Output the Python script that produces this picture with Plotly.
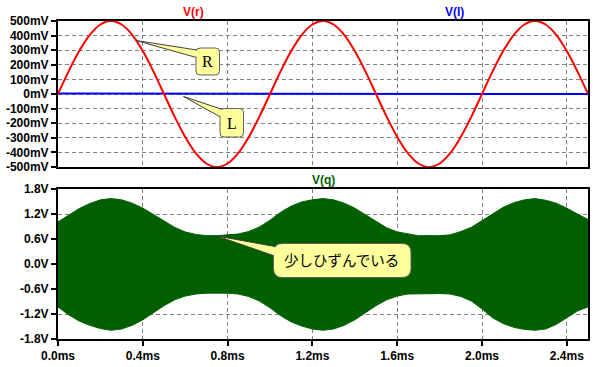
import plotly.graph_objects as go

# ---------------- data ----------------
t_ms = [round(0.05 * i, 2) for i in range(51)]  # 0.00 .. 2.50 ms sample times

v_r = [0.000, 0.155, 0.294, 0.405, 0.476, 0.500, 0.476, 0.405, 0.294, 0.155,
       0.000, -0.155, -0.294, -0.405, -0.476, -0.500, -0.476, -0.405, -0.294, -0.155,
       0.000, 0.155, 0.294, 0.405, 0.476, 0.500, 0.476, 0.405, 0.294, 0.155,
       0.000, -0.155, -0.294, -0.405, -0.476, -0.500, -0.476, -0.405, -0.294, -0.155,
       0.000, 0.155, 0.294, 0.405, 0.476, 0.500, 0.476, 0.405, 0.294, 0.155,
       0.000]

vl_t = [0.0, 1.245, 1.25, 2.5]
v_l = [0.004, 0.004, 0.0, 0.0]

# envelope of the dense V(q) carrier
vq_upper = [1.01, 1.18, 1.33, 1.45, 1.54, 1.57, 1.54, 1.46, 1.34, 1.19,
            1.04, 0.88, 0.77, 0.71, 0.68, 0.68, 0.70, 0.72, 0.78, 0.89,
            1.05, 1.24, 1.39, 1.49, 1.54, 1.57, 1.54, 1.46, 1.34, 1.19,
            1.03, 0.87, 0.77, 0.72, 0.68, 0.68, 0.68, 0.70, 0.78, 0.88,
            1.04, 1.21, 1.36, 1.47, 1.54, 1.57, 1.53, 1.46, 1.34, 1.20,
            1.07]
vq_lower = [-1.03, -1.22, -1.37, -1.47, -1.55, -1.59, -1.56, -1.47, -1.34, -1.17,
            -1.00, -0.86, -0.77, -0.72, -0.70, -0.70, -0.70, -0.72, -0.78, -0.89,
            -1.05, -1.24, -1.39, -1.49, -1.56, -1.59, -1.56, -1.47, -1.34, -1.17,
            -1.00, -0.86, -0.77, -0.72, -0.71, -0.71, -0.71, -0.72, -0.78, -0.89,
            -1.08, -1.29, -1.43, -1.52, -1.57, -1.59, -1.56, -1.45, -1.29, -1.13,
            -1.03]

x_ticks = [0.0, 0.4, 0.8, 1.2, 1.6, 2.0, 2.4]
x_ticktext = ["0.0ms", "0.4ms", "0.8ms", "1.2ms", "1.6ms", "2.0ms", "2.4ms"]
top_ticks = [0.5, 0.4, 0.3, 0.2, 0.1, 0.0, -0.1, -0.2, -0.3, -0.4, -0.5]
top_ticktext = ["500mV", "400mV", "300mV", "200mV", "100mV", "0mV",
                "-100mV", "-200mV", "-300mV", "-400mV", "-500mV"]
bot_ticks = [1.8, 1.2, 0.6, 0.0, -0.6, -1.2, -1.8]
bot_ticktext = ["1.8V", "1.2V", "0.6V", "0.0V", "-0.6V", "-1.2V", "-1.8V"]

# ---------------- layout geometry ----------------
W, H = 598, 367
ML, MR, MT, MB = 58, 10, 21, 28
PW, PH = W - ML - MR, H - MT - MB

def px(x):
    return (x - ML) / PW

def py(y):
    return (H - MB - y) / PH

RED = "#ff0000"
BLUE = "#0000ff"
GREEN = "rgb(0,96,0)"
YELLOW = "#ffff9c"
GRID = "#808080"

fig = go.Figure()

fig.add_trace(go.Scatter(x=vl_t, y=v_l, mode="lines", line=dict(color=BLUE, width=2),
                         xaxis="x", yaxis="y", hoverinfo="skip"))
fig.add_trace(go.Scatter(x=t_ms, y=v_r, mode="lines", line=dict(color=RED, width=2, shape="spline"),
                         xaxis="x", yaxis="y", hoverinfo="skip"))
fig.add_trace(go.Scatter(x=t_ms + t_ms[::-1], y=vq_upper + vq_lower[::-1], mode="lines",
                         fill="toself", fillcolor=GREEN, line=dict(color=GREEN, width=1),
                         xaxis="x2", yaxis="y2", hoverinfo="skip"))

tickfont = dict(family="Liberation Sans, Arial, sans-serif", size=12, color="black", weight="bold")
common_axis = dict(showline=True, linecolor="black", linewidth=2, mirror=True,
                   showgrid=True, gridcolor=GRID, gridwidth=1, griddash="4px,3px",
                   zeroline=False, tickfont=tickfont, automargin=False)

top_dom0 = py(167)
bot_dom1 = py(189)

fig.update_layout(
    width=W, height=H,
    margin=dict(l=ML, r=MR, t=MT, b=MB, pad=0, autoexpand=False),
    paper_bgcolor="white", plot_bgcolor="white",
    showlegend=False,
    xaxis=dict(domain=[0, 1], anchor="y", range=[0, 2.5], tickvals=x_ticks,
               showticklabels=False, ticks="", matches="x2", **common_axis),
    yaxis=dict(domain=[top_dom0, 1], anchor="x", range=[-0.5, 0.5], tickvals=top_ticks,
               ticktext=top_ticktext, ticks="outside", ticklen=5, tickwidth=2, tickcolor="black",
               **common_axis),
    xaxis2=dict(domain=[0, 1], anchor="y2", range=[0, 2.5], tickvals=x_ticks, ticktext=x_ticktext,
                ticks="outside", ticklen=5, tickwidth=2, tickcolor="black", **common_axis),
    yaxis2=dict(domain=[0, bot_dom1], anchor="x2", range=[-1.8, 1.8], tickvals=bot_ticks,
                ticktext=bot_ticktext, ticks="outside", ticklen=5, tickwidth=2, tickcolor="black",
                **common_axis),
)

# ---------------- titles ----------------
title_font = dict(family="Liberation Sans, Arial, sans-serif", size=12, weight="bold")
for txt, cx, cy, col in [("V(r)", 193, 12, RED), ("V(l)", 455, 12, BLUE), ("V(q)", 323, 180.5, GREEN)]:
    fig.add_annotation(text=txt, xref="paper", yref="paper", x=px(cx), y=py(cy),
                       xanchor="center", yanchor="middle", showarrow=False,
                       font=dict(color=col, **title_font))

# ---------------- callouts ----------------
def rrect(x0, y0, x1, y1, r):
    return (f"M {px(x0 + r)},{py(y0)} L {px(x1 - r)},{py(y0)} "
            f"Q {px(x1)},{py(y0)} {px(x1)},{py(y0 + r)} L {px(x1)},{py(y1 - r)} "
            f"Q {px(x1)},{py(y1)} {px(x1 - r)},{py(y1)} L {px(x0 + r)},{py(y1)} "
            f"Q {px(x0)},{py(y1)} {px(x0)},{py(y1 - r)} L {px(x0)},{py(y0 + r)} "
            f"Q {px(x0)},{py(y0)} {px(x0 + r)},{py(y0)} Z")

def callout(tip, box, base, r, text, tcenter, font):
    tx, ty = tip
    x0, y0, x1, y1 = box
    bt, bb = base
    fig.add_shape(type="path", xref="paper", yref="paper", layer="above",
                  path=f"M {px(tx)},{py(ty)} L {px(x0 + 4)},{py(bt)} L {px(x0 + 4)},{py(bb)} Z",
                  fillcolor=YELLOW, line=dict(color="#404040", width=1))
    fig.add_shape(type="path", xref="paper", yref="paper", layer="above",
                  path=rrect(x0, y0, x1, y1, r),
                  fillcolor=YELLOW, line=dict(color="#606060", width=1))
    def edge(yb, x):
        return ty + (yb - ty) * (x - tx) / (x0 + 4 - tx)
    xa, xb = x0 - 2, x0 + 2
    fig.add_shape(type="path", xref="paper", yref="paper", layer="above",
                  path=(f"M {px(xa)},{py(edge(bt, xa) + 0.9)} L {px(xb)},{py(edge(bt, xb) + 0.9)} "
                        f"L {px(xb)},{py(edge(bb, xb) - 0.9)} L {px(xa)},{py(edge(bb, xa) - 0.9)} Z"),
                  fillcolor=YELLOW, line=dict(width=0))
    fig.add_annotation(text=text, xref="paper", yref="paper", x=px(tcenter[0]), y=py(tcenter[1]),
                       xanchor="center", yanchor="middle", showarrow=False, font=font)

serif = dict(family="Liberation Serif, Times New Roman, serif", size=16, color="black")
callout((136, 40.5), (196, 48, 219.5, 75), (50.5, 58.5), 4, "R", (207.8, 61.5), serif)
callout((183.5, 96.5), (220, 108.5, 243.5, 137), (110, 119), 4, "L", (231.8, 123), serif)
callout((217, 236), (273.5, 243.5, 411, 277.5), (247, 257), 9, "少しひずんでいる", (341, 259),
        dict(family="Noto Sans CJK JP", size=14.5, color="black"))

fig.write_html("out.html", config={"displayModeBar": False, "staticPlot": True},
               post_script="document.body.style.margin='0';document.body.style.overflow='hidden';")
